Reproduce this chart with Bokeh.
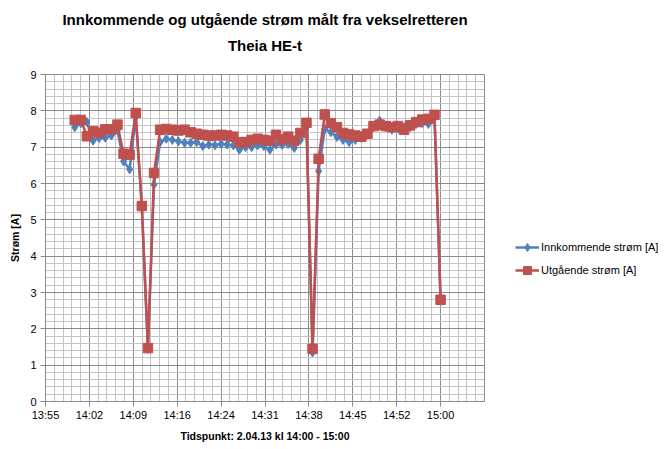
from bokeh.plotting import figure
from bokeh.models import FixedTicker, Range1d, Legend, LegendItem, Title
from bokeh.layouts import row
from bokeh.embed import file_html
from bokeh.resources import INLINE

# ---------------- data ----------------
times = ["14:00", "14:01", "14:02", "14:03", "14:04", "14:05", "14:06", "14:07", "14:08", "14:09",
         "14:10", "14:11", "14:12", "14:13", "14:14", "14:15", "14:16", "14:17", "14:18", "14:19",
         "14:20", "14:21", "14:22", "14:23", "14:24", "14:25", "14:26", "14:27", "14:28", "14:29",
         "14:30", "14:31", "14:32", "14:33", "14:34", "14:35", "14:36", "14:37", "14:38", "14:39",
         "14:40", "14:41", "14:42", "14:43", "14:44", "14:45", "14:46", "14:47", "14:48", "14:49",
         "14:50", "14:51", "14:52", "14:53", "14:54", "14:55", "14:56", "14:57", "14:58", "14:59",
         "15:00"]

innkommende = [7.55, 7.66, 7.69, 7.18, 7.25, 7.26, 7.32, 7.46, 6.61, 6.39,
               7.84, 5.36, 1.45, 5.97, 7.14, 7.23, 7.20, 7.16, 7.12, 7.12,
               7.14, 7.03, 7.07, 7.05, 7.09, 7.07, 7.05, 6.93, 7.00, 7.00,
               7.05, 7.03, 6.93, 7.07, 7.06, 7.09, 6.98, 7.20, 7.55, 1.35,
               6.34, 7.50, 7.41, 7.28, 7.20, 7.14, 7.20, 7.26, 7.37, 7.55,
               7.73, 7.55, 7.48, 7.51, 7.55, 7.55, 7.64, 7.66, 7.64, 7.84,
               2.78]

utgaende = [7.75, 7.75, 7.30, 7.44, 7.40, 7.49, 7.49, 7.62, 6.82, 6.79,
            7.94, 5.38, 1.47, 6.29, 7.48, 7.50, 7.48, 7.46, 7.48, 7.41,
            7.37, 7.34, 7.32, 7.32, 7.34, 7.32, 7.29, 7.14, 7.14, 7.20,
            7.23, 7.20, 7.18, 7.34, 7.21, 7.29, 7.18, 7.39, 7.67, 1.45,
            6.68, 7.90, 7.66, 7.55, 7.39, 7.35, 7.32, 7.29, 7.37, 7.58,
            7.62, 7.58, 7.55, 7.58, 7.48, 7.60, 7.69, 7.76, 7.78, 7.89,
            2.80]

series_names = ["Innkommende strøm [A]", "Utgående strøm [A]"]

# x axis ticks (seconds after midnight; Excel-style 0.005 day steps)
x_tick_values = [50112, 50544, 50976, 51408, 51840, 52272, 52704, 53136, 53568, 54000]
x_tick_labels = ["13:55", "14:02", "14:09", "14:16", "14:24", "14:31", "14:38", "14:45", "14:52", "15:00"]
y_tick_values = [0, 1, 2, 3, 4, 5, 6, 7, 8, 9]

title_line1 = "Innkommende og utgående strøm målt fra vekselretteren"
title_line2 = "Theia HE-t"
x_label = "Tidspunkt: 2.04.13 kl 14:00 - 15:00"
y_label = "Strøm [A]"


def to_seconds(t):
    h, m = t.split(":")
    return int(h) * 3600 + int(m) * 60


xs = [to_seconds(t) for t in times]

X0, X1 = 50112, 54432
x_step_minor = 86.4
x_grid_major = x_tick_values + [X1]
x_grid_minor = [X0 + x_step_minor * k for k in range(51) if k % 5 != 0]
y_grid_minor = [k / 5 for k in range(46) if k % 5 != 0]

BLUE = "#4F81BD"
RED = "#C0504D"
MAJOR = "#8a8a8a"
MINOR = "#c4c4c4"
FONT = "Liberation Sans"
H = 445

p = figure(width=486, height=H, output_backend="svg", toolbar_location=None,
           x_range=Range1d(X0, X1), y_range=Range1d(0, 9),
           min_border_left=45, min_border_right=2, min_border_top=74, min_border_bottom=44,
           background_fill_color="white", border_fill_color="white")
p.outline_line_color = MAJOR

# titles (second line added first: it sits next to the plot area)
t2 = Title(text=title_line2, align="center", text_font=FONT, text_font_size="15px",
           text_font_style="bold", text_color="black", standoff=41)
p.add_layout(t2, "above")
t1 = Title(text=title_line1, align="center", text_font=FONT, text_font_size="15px",
           text_font_style="bold", text_color="black", standoff=-27)
p.add_layout(t1, "above")

# grids
p.xgrid.ticker = FixedTicker(ticks=x_grid_major, minor_ticks=x_grid_minor)
p.ygrid.ticker = FixedTicker(ticks=y_tick_values, minor_ticks=y_grid_minor)
for g in (p.xgrid, p.ygrid):
    g.grid_line_color = MAJOR
    g.grid_line_width = 1
    g.minor_grid_line_color = MINOR
    g.minor_grid_line_width = 1

# axes
p.xaxis.ticker = FixedTicker(ticks=x_tick_values)
p.xaxis.major_label_overrides = dict(zip(x_tick_values, x_tick_labels))
p.yaxis.ticker = FixedTicker(ticks=y_tick_values)
for ax in (p.xaxis, p.yaxis):
    ax.axis_line_color = MAJOR
    ax.major_tick_line_color = MAJOR
    ax.major_tick_out = 5
    ax.major_tick_in = 0
    ax.minor_tick_out = 0
    ax.minor_tick_in = 0
    ax.major_label_text_font = FONT
    ax.major_label_text_font_size = "11px"
    ax.major_label_text_color = "black"
    ax.axis_label_text_font = FONT
    ax.axis_label_text_font_size = "10.5px"
    ax.axis_label_text_font_style = "bold"
    ax.axis_label_text_color = "black"
p.xaxis.axis_label = x_label
p.yaxis.axis_label = y_label
p.xaxis.major_label_standoff = 2
p.xaxis.axis_label_standoff = 6
p.yaxis.major_label_standoff = 4
p.yaxis.axis_label_standoff = 6

# series
line_style_b = dict(line_color=BLUE, line_width=2.5)
mark_style_b = dict(marker="diamond", size=9, fill_color=BLUE, line_color=BLUE)
line_style_r = dict(line_color=RED, line_width=2.5)
mark_style_r = dict(marker="square", size=9.5, fill_color=RED, line_color=RED)

p.line(xs, innkommende, **line_style_b)
p.scatter(xs, innkommende, **mark_style_b)
p.line(xs, utgaende, **line_style_r)
p.scatter(xs, utgaende, **mark_style_r)

# legend panel (separate canvas to the right of the plot area)
lg = figure(width=174, height=H, output_backend="svg", toolbar_location=None,
            x_range=Range1d(0, 1), y_range=Range1d(0, 1),
            min_border_left=0, min_border_right=0, min_border_top=0, min_border_bottom=0,
            background_fill_color="white", border_fill_color="white")
lg.outline_line_color = None
lg.axis.visible = False
lg.grid.visible = False
# proxy renderers placed outside the visible range: they only supply legend glyphs
lbl = lg.line([5, 6], [5, 6], **line_style_b)
lbm = lg.scatter([5], [5], **mark_style_b)
lrl = lg.line([5, 6], [5, 6], **line_style_r)
lrm = lg.scatter([5], [5], **mark_style_r)

legend = Legend(items=[LegendItem(label=series_names[0], renderers=[lbl, lbm]),
                       LegendItem(label=series_names[1], renderers=[lrl, lrm])],
                location=(29, 121), glyph_width=24, glyph_height=20, label_height=20,
                spacing=3, padding=0, margin=0, label_standoff=2,
                label_text_font=FONT, label_text_font_size="11px", label_text_color="black",
                border_line_alpha=0, background_fill_alpha=0)
lg.add_layout(legend)

layout = row(p, lg, spacing=0)
open("out.html", "w").write(file_html(layout, INLINE))
